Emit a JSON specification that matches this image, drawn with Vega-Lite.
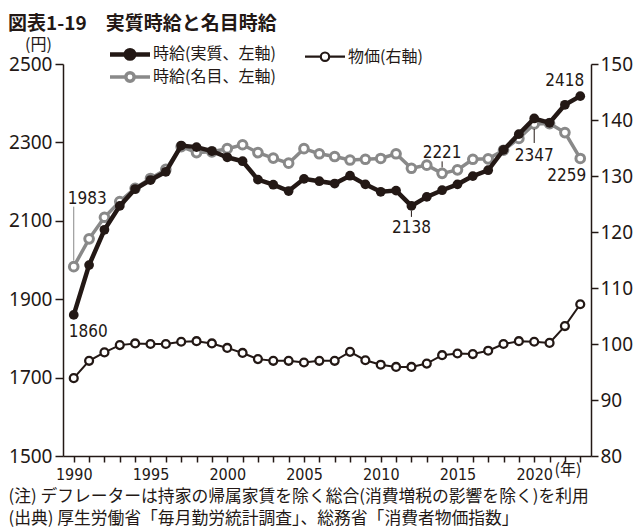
{
  "$schema": "https://vega.github.io/schema/vega-lite/v6.json",
  "width": 528,
  "height": 392,
  "autosize": {"type": "none"},
  "padding": {"left": 63, "top": 64, "right": 49, "bottom": 74},
  "background": "white",
  "view": {"stroke": null},
  "config": {
    "font": "Noto Sans CJK JP",
    "axis": {"grid": false, "domainColor": "#231815", "tickColor": "#231815", "labelColor": "#231815", "titleColor": "#231815", "domainWidth": 1.5, "tickWidth": 1.5}
  },
  "title": {
    "text": "図表1-19　実質時給と名目時給",
    "anchor": "start",
    "frame": "group",
    "font": "Noto Sans CJK JP",
    "fontSize": 19,
    "fontWeight": "bold",
    "color": "#231815",
    "dx": -55,
    "dy": -2,
    "offset": 0
  },
  "datasets": {
    "wages": [
      {"year": 1990, "series": "real", "value": 1860}, {"year": 1991, "series": "real", "value": 1987},
      {"year": 1992, "series": "real", "value": 2077}, {"year": 1993, "series": "real", "value": 2138},
      {"year": 1994, "series": "real", "value": 2181}, {"year": 1995, "series": "real", "value": 2204},
      {"year": 1996, "series": "real", "value": 2225}, {"year": 1997, "series": "real", "value": 2292},
      {"year": 1998, "series": "real", "value": 2288}, {"year": 1999, "series": "real", "value": 2278},
      {"year": 2000, "series": "real", "value": 2262}, {"year": 2001, "series": "real", "value": 2252},
      {"year": 2002, "series": "real", "value": 2205}, {"year": 2003, "series": "real", "value": 2192},
      {"year": 2004, "series": "real", "value": 2176}, {"year": 2005, "series": "real", "value": 2207},
      {"year": 2006, "series": "real", "value": 2201}, {"year": 2007, "series": "real", "value": 2195},
      {"year": 2008, "series": "real", "value": 2215}, {"year": 2009, "series": "real", "value": 2193},
      {"year": 2010, "series": "real", "value": 2174}, {"year": 2011, "series": "real", "value": 2177},
      {"year": 2012, "series": "real", "value": 2138}, {"year": 2013, "series": "real", "value": 2161},
      {"year": 2014, "series": "real", "value": 2178}, {"year": 2015, "series": "real", "value": 2193},
      {"year": 2016, "series": "real", "value": 2214}, {"year": 2017, "series": "real", "value": 2229},
      {"year": 2018, "series": "real", "value": 2281}, {"year": 2019, "series": "real", "value": 2321},
      {"year": 2020, "series": "real", "value": 2361}, {"year": 2021, "series": "real", "value": 2350},
      {"year": 2022, "series": "real", "value": 2396}, {"year": 2023, "series": "real", "value": 2418},
      {"year": 1990, "series": "nominal", "value": 1983}, {"year": 1991, "series": "nominal", "value": 2054},
      {"year": 1992, "series": "nominal", "value": 2109}, {"year": 1993, "series": "nominal", "value": 2149},
      {"year": 1994, "series": "nominal", "value": 2183}, {"year": 1995, "series": "nominal", "value": 2208},
      {"year": 1996, "series": "nominal", "value": 2231}, {"year": 1997, "series": "nominal", "value": 2289},
      {"year": 1998, "series": "nominal", "value": 2274}, {"year": 1999, "series": "nominal", "value": 2276},
      {"year": 2000, "series": "nominal", "value": 2284}, {"year": 2001, "series": "nominal", "value": 2294},
      {"year": 2002, "series": "nominal", "value": 2274}, {"year": 2003, "series": "nominal", "value": 2260},
      {"year": 2004, "series": "nominal", "value": 2247}, {"year": 2005, "series": "nominal", "value": 2284},
      {"year": 2006, "series": "nominal", "value": 2271}, {"year": 2007, "series": "nominal", "value": 2264},
      {"year": 2008, "series": "nominal", "value": 2255}, {"year": 2009, "series": "nominal", "value": 2257},
      {"year": 2010, "series": "nominal", "value": 2259}, {"year": 2011, "series": "nominal", "value": 2271},
      {"year": 2012, "series": "nominal", "value": 2234}, {"year": 2013, "series": "nominal", "value": 2242},
      {"year": 2014, "series": "nominal", "value": 2221}, {"year": 2015, "series": "nominal", "value": 2230},
      {"year": 2016, "series": "nominal", "value": 2257}, {"year": 2017, "series": "nominal", "value": 2258},
      {"year": 2018, "series": "nominal", "value": 2280}, {"year": 2019, "series": "nominal", "value": 2310},
      {"year": 2020, "series": "nominal", "value": 2347}, {"year": 2021, "series": "nominal", "value": 2348},
      {"year": 2022, "series": "nominal", "value": 2325}, {"year": 2023, "series": "nominal", "value": 2259}
    ],
    "price": [
      {"year": 1990, "value": 93.9}, {"year": 1991, "value": 97.0}, {"year": 1992, "value": 98.5},
      {"year": 1993, "value": 99.8}, {"year": 1994, "value": 100.1}, {"year": 1995, "value": 100.0},
      {"year": 1996, "value": 100.0}, {"year": 1997, "value": 100.4}, {"year": 1998, "value": 100.5},
      {"year": 1999, "value": 100.1}, {"year": 2000, "value": 99.3}, {"year": 2001, "value": 98.4},
      {"year": 2002, "value": 97.3}, {"year": 2003, "value": 97.0}, {"year": 2004, "value": 97.0},
      {"year": 2005, "value": 96.7}, {"year": 2006, "value": 97.0}, {"year": 2007, "value": 97.0},
      {"year": 2008, "value": 98.6}, {"year": 2009, "value": 97.1}, {"year": 2010, "value": 96.3},
      {"year": 2011, "value": 95.9}, {"year": 2012, "value": 95.9}, {"year": 2013, "value": 96.5},
      {"year": 2014, "value": 98.0}, {"year": 2015, "value": 98.3}, {"year": 2016, "value": 98.2},
      {"year": 2017, "value": 98.8}, {"year": 2018, "value": 100.0}, {"year": 2019, "value": 100.5},
      {"year": 2020, "value": 100.4}, {"year": 2021, "value": 100.2}, {"year": 2022, "value": 103.2},
      {"year": 2023, "value": 107.1}
    ],
    "labels": [
      {"year": 1990, "value": 1983, "label": "1983"},
      {"year": 1990, "value": 1860, "label": "1860"},
      {"year": 2012, "value": 2138, "label": "2138"},
      {"year": 2014, "value": 2221, "label": "2221"},
      {"year": 2020, "value": 2347, "label": "2347"},
      {"year": 2023, "value": 2259, "label": "2259"},
      {"year": 2023, "value": 2418, "label": "2418"}
    ]
  },
  "encoding": {
    "x": {
      "field": "year", "type": "quantitative",
      "scale": {"domain": [1989.3, 2023.7], "nice": false, "zero": false},
      "axis": {
        "orient": "bottom",
        "values": [1990,1991,1992,1993,1994,1995,1996,1997,1998,1999,2000,2001,2002,2003,2004,2005,2006,2007,2008,2009,2010,2011,2012,2013,2014,2015,2016,2017,2018,2019,2020,2021,2022,2023],
        "format": "d",
        "labelExpr": "datum.value % 5 == 0 ? datum.label : ''",
        "tickSize": 6,
        "labelPadding": 4,
        "labelFont": "Liberation Sans Narrow, DejaVu Sans Condensed, sans-serif",
        "labelFontSize": 16,
        "labelOverlap": false,
        "title": ["(注) デフレーターは持家の帰属家賃を除く総合(消費増税の影響を除く)を利用", "(出典) 厚生労働省「毎月勤労統計調査」、総務省「消費者物価指数」"],
        "titleFont": "Noto Sans CJK JP",
        "titleFontSize": 16.8,
        "titleFontWeight": "normal",
        "titleAlign": "left",
        "titleAnchor": "start",
        "titleBaseline": "top",
        "titleLineHeight": 22,
        "titleX": -55,
        "titleY": 32
      }
    }
  },
  "layer": [
    {
      "encoding": {
        "y": {
          "field": "value", "type": "quantitative",
          "scale": {"domain": [1500, 2500], "nice": false, "zero": false},
          "axis": {
            "orient": "left",
            "values": [1500, 1700, 1900, 2100, 2300, 2500],
            "format": "d",
            "tickSize": 8,
            "labelPadding": 3,
            "labelFont": "Noto Sans",
            "labelFontSize": 19,
            "title": "(円)",
            "titleAngle": 0,
            "titleAlign": "center",
            "titleBaseline": "middle",
            "titleFont": "Noto Sans CJK JP",
            "titleFontSize": 16,
            "titleFontWeight": "normal",
            "titleX": -25,
            "titleY": -20
          }
        }
      },
      "layer": [
        {
          "data": {"name": "wages"},
          "transform": [{"filter": "datum.series == 'nominal'"}],
          "mark": {"type": "line", "color": "#898989", "strokeWidth": 3.5}
        },
        {
          "data": {"name": "wages"},
          "transform": [{"filter": "datum.series == 'nominal'"}],
          "mark": {"type": "circle", "fill": "white", "stroke": "#898989", "strokeWidth": 3, "size": 75, "opacity": 1}
        },
        {
          "data": {"name": "wages"},
          "transform": [{"filter": "datum.series == 'real'"}],
          "mark": {"type": "line", "color": "#231815", "strokeWidth": 4.5}
        },
        {
          "data": {"name": "wages"},
          "transform": [{"filter": "datum.series == 'real'"}],
          "mark": {"type": "circle", "fill": "#231815", "size": 95, "opacity": 1}
        },
        {
          "data": {"name": "labels"},
          "transform": [{"filter": "datum.label == '1983'"}],
          "mark": {"type": "rule", "color": "#898989", "strokeWidth": 1, "yOffset": -6, "y2Offset": -60},
          "encoding": {"y2": {"field": "value"}}
        },
        {
          "data": {"name": "labels"},
          "transform": [{"filter": "datum.label == '2138'"}],
          "mark": {"type": "rule", "color": "#231815", "strokeWidth": 1, "yOffset": 5, "y2Offset": 11},
          "encoding": {"y2": {"field": "value"}}
        },
        {
          "data": {"name": "labels"},
          "transform": [{"filter": "datum.label == '2221'"}],
          "mark": {"type": "rule", "color": "#231815", "strokeWidth": 1, "yOffset": -6, "y2Offset": -12},
          "encoding": {"y2": {"field": "value"}}
        },
        {
          "data": {"name": "labels"},
          "transform": [{"filter": "datum.label == '2347'"}],
          "mark": {"type": "rule", "color": "#231815", "strokeWidth": 1, "yOffset": 5, "y2Offset": 19},
          "encoding": {"y2": {"field": "value"}}
        },
        {
          "data": {"name": "labels"},
          "transform": [{"filter": "datum.label == '1983'"}],
          "mark": {"type": "text", "align": "left", "baseline": "middle", "dx": -6, "dy": -68, "font": "Liberation Sans Narrow, DejaVu Sans Condensed, sans-serif", "fontSize": 17, "color": "#231815"},
          "encoding": {"text": {"field": "label"}}
        },
        {
          "data": {"name": "labels"},
          "transform": [{"filter": "datum.label == '1860'"}],
          "mark": {"type": "text", "align": "left", "baseline": "middle", "dx": -5, "dy": 17, "font": "Liberation Sans Narrow, DejaVu Sans Condensed, sans-serif", "fontSize": 17, "color": "#231815"},
          "encoding": {"text": {"field": "label"}}
        },
        {
          "data": {"name": "labels"},
          "transform": [{"filter": "datum.label == '2138'"}],
          "mark": {"type": "text", "align": "center", "baseline": "middle", "dy": 22, "font": "Liberation Sans Narrow, DejaVu Sans Condensed, sans-serif", "fontSize": 17, "color": "#231815"},
          "encoding": {"text": {"field": "label"}}
        },
        {
          "data": {"name": "labels"},
          "transform": [{"filter": "datum.label == '2221'"}],
          "mark": {"type": "text", "align": "center", "baseline": "middle", "dy": -20, "font": "Liberation Sans Narrow, DejaVu Sans Condensed, sans-serif", "fontSize": 17, "color": "#231815"},
          "encoding": {"text": {"field": "label"}}
        },
        {
          "data": {"name": "labels"},
          "transform": [{"filter": "datum.label == '2347'"}],
          "mark": {"type": "text", "align": "center", "baseline": "middle", "dy": 32, "font": "Liberation Sans Narrow, DejaVu Sans Condensed, sans-serif", "fontSize": 17, "color": "#231815"},
          "encoding": {"text": {"field": "label"}}
        },
        {
          "data": {"name": "labels"},
          "transform": [{"filter": "datum.label == '2259'"}],
          "mark": {"type": "text", "align": "right", "baseline": "middle", "dx": 6, "dy": 18, "font": "Liberation Sans Narrow, DejaVu Sans Condensed, sans-serif", "fontSize": 17, "color": "#231815"},
          "encoding": {"text": {"field": "label"}}
        },
        {
          "data": {"name": "labels"},
          "transform": [{"filter": "datum.label == '2418'"}],
          "mark": {"type": "text", "align": "right", "baseline": "middle", "dx": 4, "dy": -15, "font": "Liberation Sans Narrow, DejaVu Sans Condensed, sans-serif", "fontSize": 17, "color": "#231815"},
          "encoding": {"text": {"field": "label"}}
        },
        {
          "data": {"values": [{"year": 2022.2, "value": 1500, "label": "(年)"}]},
          "mark": {"type": "text", "align": "center", "baseline": "middle", "dy": 14, "font": "Noto Sans CJK JP", "fontSize": 16, "color": "#231815"},
          "encoding": {"text": {"field": "label"}}
        }
      ]
    },
    {
      "data": {"name": "price"},
      "encoding": {
        "y": {
          "field": "value", "type": "quantitative",
          "scale": {"domain": [80, 150], "nice": false, "zero": false},
          "axis": {
            "orient": "right",
            "values": [80, 90, 100, 110, 120, 130, 140, 150],
            "tickSize": 7,
            "labelPadding": 2,
            "labelFont": "Noto Sans",
            "labelFontSize": 19,
            "title": null
          }
        }
      },
      "layer": [
        {
          "mark": {"type": "line", "strokeWidth": 2},
          "encoding": {
            "color": {
              "datum": "物価(右軸)",
              "type": "nominal",
              "scale": {"domain": ["時給(実質、左軸)", "物価(右軸)", "時給(名目、左軸)"], "range": ["#231815", "#231815", "#898989"]},
              "legend": {
                "orient": "none",
                "legendX": 59,
                "legendY": -18,
                "direction": "horizontal",
                "columns": 2,
                "title": null,
                "padding": 0,
                "symbolType": "M-2,0H-0.42M0.42,0H2M-0.42,0A0.42,0.42 0 1,1 0.42,0A0.42,0.42 0 1,1 -0.42,0",
                "symbolSize": 400,
                "labelFont": "Noto Sans CJK JP",
                "labelFontSize": 16,
                "labelColor": "#231815",
                "labelOffset": 15,
                "labelLimit": 400,
                "rowPadding": -3,
                "columnPadding": 24,
                "encode": {
                  "symbols": {
                    "update": {
                      "fill": {"signal": "datum.value === '時給(実質、左軸)' ? '#231815' : '#ffffff'"},
                      "stroke": {"signal": "datum.value === '時給(名目、左軸)' ? '#898989' : '#231815'"},
                      "strokeWidth": {"signal": "datum.value === '時給(実質、左軸)' ? 4.5 : (datum.value === '時給(名目、左軸)' ? 3.5 : 2.2)"},
                      "opacity": {"value": 1}
                    }
                  }
                }
              }
            }
          }
        },
        {
          "mark": {"type": "circle", "fill": "white", "stroke": "#231815", "strokeWidth": 2.3, "size": 62, "opacity": 1}
        }
      ]
    }
  ],
  "resolve": {"scale": {"y": "independent"}}
}
